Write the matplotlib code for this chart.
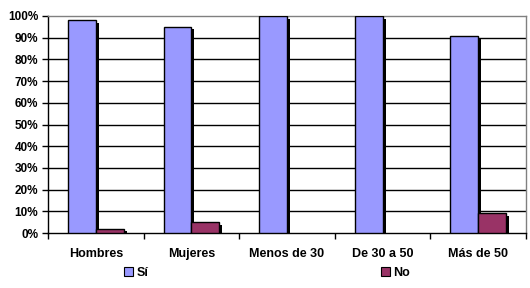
import matplotlib
matplotlib.use("Agg")
import matplotlib.pyplot as plt
import matplotlib.patheffects as pe
from matplotlib.patches import Patch
from matplotlib.ticker import FixedLocator, PercentFormatter
import numpy as np

# ── Datos ────────────────────────────────────────────────────────────────────
categorias = ["Hombres", "Mujeres", "Menos de 30", "De 30 a 50", "Más de 50"]
si = [98, 95, 100, 100, 91]
no = [2, 5, 0, 0, 9]

COLOR_SI = "#9999FF"
COLOR_NO = "#993366"

plt.rcParams["font.family"] = ["Liberation Sans", "DejaVu Sans"]
plt.rcParams["font.weight"] = "bold"

fig = plt.figure(figsize=(5.30, 2.88), dpi=100)
ax = fig.add_axes([48 / 530, 55 / 288, 478 / 530, 217 / 288])

x = np.arange(len(categorias))
w = 0.29
sombra = [pe.SimplePatchShadow(offset=(2.2, -1.8), shadow_rgbFace="black", alpha=1.0),
          pe.Normal()]

b1 = ax.bar(x - w / 2, si, w, color=COLOR_SI, edgecolor="black", linewidth=1.0, zorder=3)
b2 = ax.bar(x + w / 2, no, w, color=COLOR_NO, edgecolor="black", linewidth=1.0, zorder=3)
for b in list(b1) + list(b2):
    if b.get_height() > 0:
        b.set_path_effects(sombra)
    else:
        b.set_visible(False)

ax.set_xlim(-0.5, len(categorias) - 0.5)
ax.set_ylim(0, 100)
ax.set_yticks(np.arange(0, 101, 10))
ax.yaxis.set_major_formatter(PercentFormatter(decimals=0))
for yv in range(10, 100, 10):
    ax.axhline(yv, color="black", linewidth=1.0, zorder=1)

ax.set_xticks(x)
ax.set_xticklabels(categorias, fontsize=9, fontweight="bold")
ax.xaxis.set_minor_locator(FixedLocator(np.arange(-0.5, len(categorias), 1.0)))
ax.tick_params(axis="x", which="major", length=0, pad=10.5)
ax.tick_params(axis="x", which="minor", length=4, width=1, color="black")
ax.tick_params(axis="y", length=4, width=1, pad=3, labelsize=8.5)
for lab in ax.get_yticklabels():
    lab.set_fontweight("bold")

ax.spines["left"].set_color("black")
ax.spines["bottom"].set_color("black")
ax.spines["top"].set_color("#808080")
ax.spines["right"].set_color("#808080")
for s in ax.spines.values():
    s.set_linewidth(1.0)

handles = [Patch(facecolor=COLOR_SI, edgecolor="black", linewidth=0.8),
           Patch(facecolor=COLOR_NO, edgecolor="black", linewidth=0.8)]
fig.legend(handles, ["Sí", "No"], loc="center", bbox_to_anchor=(267 / 530, 15 / 288),
           ncol=2, frameon=False, handlelength=0.7, handleheight=0.7,
           handletextpad=0.3, columnspacing=18.6, prop={"size": 9, "weight": "bold"})

fig.savefig("out.png", dpi=100)
